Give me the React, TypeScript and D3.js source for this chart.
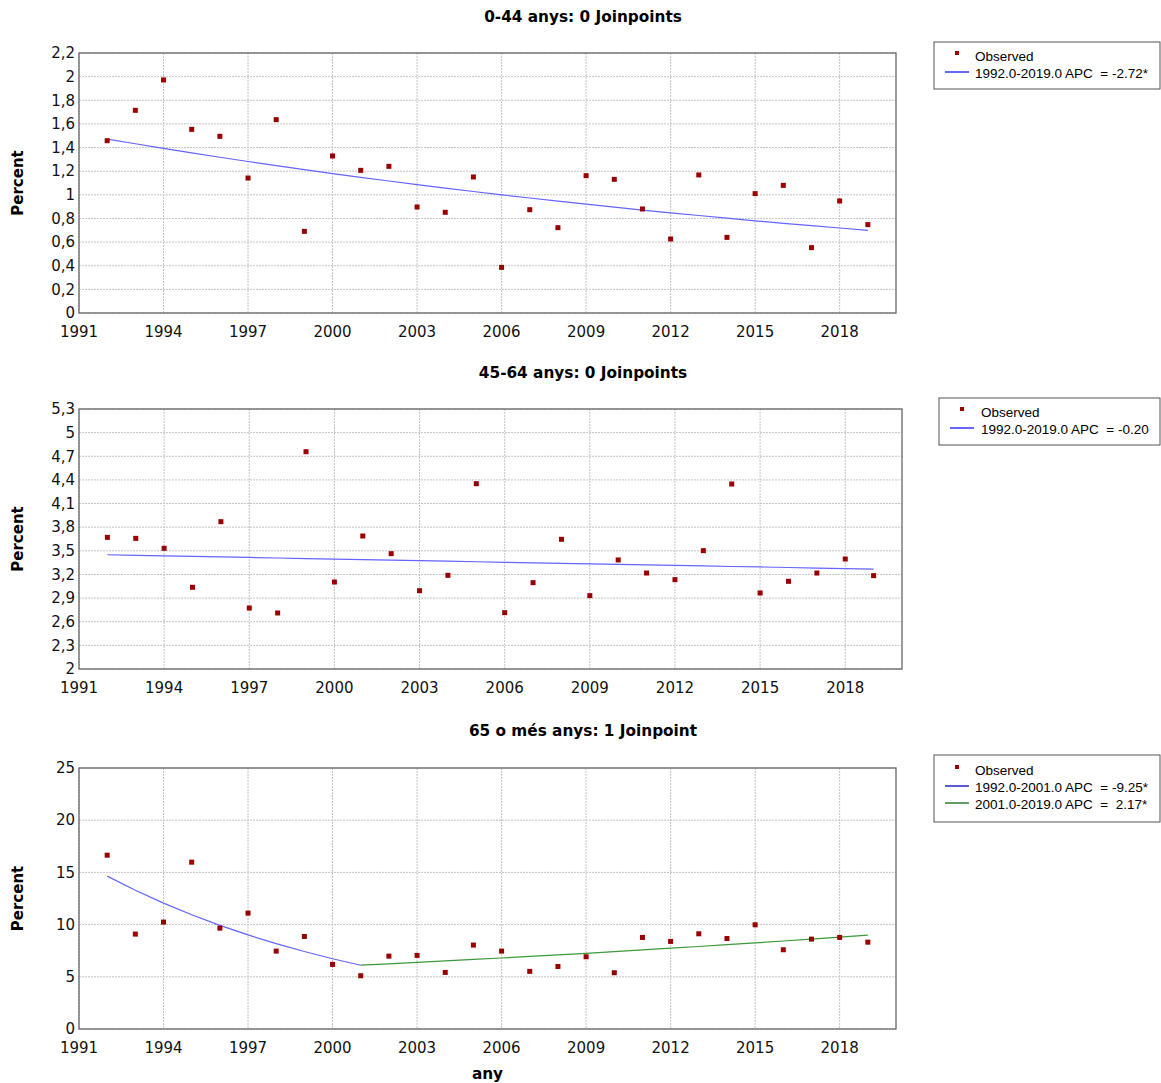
import React from "react";
import * as d3 from "d3";

const years = d3.range(1992, 2020);

const obs044 = [1.458, 1.715, 1.972, 1.554, 1.495, 1.142, 1.636, 0.691, 1.329, 1.207, 1.241, 0.897, 0.852, 1.151,
  0.386, 0.874, 0.722, 1.162, 1.131, 0.88, 0.626, 1.168, 0.64, 1.01, 1.08, 0.553, 0.948, 0.748];
const fit044 = [1.472, 1.432, 1.393, 1.355, 1.318, 1.282, 1.247, 1.213, 1.18, 1.148, 1.117, 1.087, 1.057, 1.028,
  1.0, 0.973, 0.947, 0.921, 0.896, 0.871, 0.848, 0.825, 0.802, 0.78, 0.759, 0.739, 0.719, 0.699];

const obs4564 = [3.671, 3.658, 3.532, 3.037, 3.87, 2.774, 2.711, 4.758, 3.104, 3.688, 3.464, 2.994, 3.189, 4.352,
  2.715, 3.096, 3.646, 2.931, 3.384, 3.218, 3.134, 3.502, 4.348, 2.965, 3.113, 3.218, 3.396, 3.185];
const fit4564 = [3.45, 3.443, 3.436, 3.429, 3.422, 3.416, 3.409, 3.402, 3.395, 3.388, 3.381, 3.375, 3.368, 3.361,
  3.354, 3.348, 3.341, 3.334, 3.328, 3.321, 3.314, 3.308, 3.301, 3.295, 3.288, 3.281, 3.275, 3.268];

const obs65 = [16.65, 9.09, 10.24, 15.98, 9.66, 11.1, 7.46, 8.86, 6.19, 5.1, 6.98, 7.05, 5.42, 8.04,
  7.46, 5.52, 5.99, 6.92, 5.39, 8.77, 8.39, 9.12, 8.67, 9.98, 7.59, 8.61, 8.77, 8.32];
const fit65a = [14.64, 13.29, 12.06, 10.94, 9.93, 9.01, 8.18, 7.42, 6.73, 6.11];
const fit65aYears = d3.range(1992, 2002);
const fit65b = [6.11, 6.24, 6.38, 6.52, 6.66, 6.8, 6.95, 7.1, 7.25, 7.41, 7.57, 7.74, 7.9, 8.08, 8.25, 8.43, 8.61, 8.8, 8.99];
const fit65bYears = d3.range(2001, 2020);

const xTicks = [1991, 1994, 1997, 2000, 2003, 2006, 2009, 2012, 2015, 2018];
const yTicks1 = [0, 0.2, 0.4, 0.6, 0.8, 1, 1.2, 1.4, 1.6, 1.8, 2, 2.2];
const yTicks2 = [2, 2.3, 2.6, 2.9, 3.2, 3.5, 3.8, 4.1, 4.4, 4.7, 5, 5.3];
const yTicks3 = [0, 5, 10, 15, 20, 25];

const titles = ["0-44 anys: 0 Joinpoints", "45-64 anys: 0 Joinpoints", "65 o més anys: 1 Joinpoint"];
const legend1 = ["Observed", "1992.0-2019.0 APC  = -2.72*"];
const legend2 = ["Observed", "1992.0-2019.0 APC  = -0.20"];
const legend3 = ["Observed", "1992.0-2001.0 APC  = -9.25*", "2001.0-2019.0 APC  =  2.17*"];

const TICK_FONT = "'DejaVu Sans', Verdana, sans-serif";
const LEG_FONT = "'Liberation Sans', Arial, sans-serif";
const OBS_COLOR = "#990000";
const LINE_BLUE = "#6464ff";
const LINE_GREEN = "#3a9a3a";

type Seg = { xs: number[]; ys: number[]; color: string };

function fmt(v: number) {
  return String(Math.round(v * 10) / 10).replace(".", ",");
}

function Panel(props: {
  left: number; right: number; top: number; bottom: number;
  domain: [number, number]; yTicks: number[]; title: string; titleY: number;
  obs: number[]; segs: Seg[];
  legend: string[]; legColors: string[]; legBox: { x: number; y: number; w: number; h: number };
  legOffsets: { markerX: number; lineX1: number; lineX2: number; textX: number; firstY: number; step: number };
  xLabel?: string;
}) {
  const { left, right, top, bottom, domain, yTicks, title, titleY, obs, segs, legend, legColors, legBox, legOffsets } = props;
  const x = d3.scaleLinear().domain([1991, 2020]).range([left, right]);
  const y = d3.scaleLinear().domain(domain).range([bottom, top]);
  const line = d3.line<[number, number]>().x((d) => x(d[0])).y((d) => y(d[1]));
  return (
    <g>
      <text x={583} y={titleY} textAnchor="middle" fontFamily={TICK_FONT} fontWeight="bold" fontSize={15.3} fill="#000">{title}</text>
      <rect x={left} y={top} width={right - left} height={bottom - top} fill="#fff" />
      {yTicks.map((t, i) => (
        <line key={"gy" + i} x1={left} x2={right} y1={y(t)} y2={y(t)} stroke="#c4c4c4" strokeWidth={1} strokeDasharray="2,1" />
      ))}
      {xTicks.map((t, i) => (
        <line key={"gx" + i} x1={x(t)} x2={x(t)} y1={top} y2={bottom} stroke="#c4c4c4" strokeWidth={1} strokeDasharray="2,1" />
      ))}
      <rect x={left} y={top} width={right - left} height={bottom - top} fill="none" stroke="#666" strokeWidth={1.3} />
      {yTicks.map((t, i) => (
        <text key={"ly" + i} x={left - 4} y={y(t)} dy="0.35em" textAnchor="end" fontFamily={TICK_FONT} fontSize={15} fill="#111">{fmt(t)}</text>
      ))}
      {xTicks.map((t, i) => (
        <text key={"lx" + i} x={x(t)} y={bottom + 24} textAnchor="middle" fontFamily={TICK_FONT} fontSize={15} fill="#111">{t}</text>
      ))}
      <text transform={`translate(23,${(top + bottom) / 2}) rotate(-90)`} textAnchor="middle" fontFamily={TICK_FONT} fontWeight="bold" fontSize={15} fill="#000">Percent</text>
      {segs.map((s, i) => (
        <path key={"s" + i} d={line(s.xs.map((xx, j) => [xx, s.ys[j]] as [number, number])) || ""} fill="none" stroke={s.color} strokeWidth={1.2} />
      ))}
      {obs.map((v, i) => (
        <rect key={"o" + i} x={x(years[i]) - 2.5} y={y(v) - 2.5} width={5} height={5} fill={OBS_COLOR} />
      ))}
      <rect x={legBox.x} y={legBox.y} width={legBox.w} height={legBox.h} fill="#fff" stroke="#555" strokeWidth={1} />
      {legend.map((l, i) => {
        const ly = legOffsets.firstY + i * legOffsets.step;
        return (
          <g key={"lg" + i}>
            {i === 0 ? (
              <rect x={legOffsets.markerX - 2} y={ly - 5} width={4} height={4} fill={OBS_COLOR} />
            ) : (
              <line x1={legOffsets.lineX1} x2={legOffsets.lineX2} y1={ly - 1} y2={ly - 1} stroke={legColors[i]} strokeWidth={1.5} />
            )}
            <text x={legOffsets.textX} y={ly} dy="0.35em" fontFamily={LEG_FONT} fontSize={13.5} fill="#000" style={{ whiteSpace: "pre" }}>{l}</text>
          </g>
        );
      })}
      {props.xLabel ? (
        <text x={(left + right) / 2} y={1079} textAnchor="middle" fontFamily={TICK_FONT} fontWeight="bold" fontSize={15.3} fill="#000">{props.xLabel}</text>
      ) : null}
    </g>
  );
}

export default function App() {
  return (
    <svg width={1161} height={1083} style={{ position: "absolute", left: 0, top: 0, background: "#fff" }}>
      <rect x={0} y={0} width={1161} height={1083} fill="#fff" />
      <Panel left={79} right={896} top={53} bottom={313} domain={[0, 2.2]} yTicks={yTicks1}
        title={titles[0]} titleY={22} obs={obs044}
        segs={[{ xs: years, ys: fit044, color: LINE_BLUE }]}
        legend={legend1} legColors={["", "#3333ff"]}
        legBox={{ x: 934, y: 42, w: 226, h: 47 }}
        legOffsets={{ markerX: 957, lineX1: 945, lineX2: 969, textX: 975, firstY: 56, step: 17 }} />
      <Panel left={79} right={902} top={409} bottom={669} domain={[2, 5.3]} yTicks={yTicks2}
        title={titles[1]} titleY={378} obs={obs4564}
        segs={[{ xs: years, ys: fit4564, color: LINE_BLUE }]}
        legend={legend2} legColors={["", "#3333ff"]}
        legBox={{ x: 939, y: 398, w: 221, h: 47 }}
        legOffsets={{ markerX: 962, lineX1: 950, lineX2: 974, textX: 981, firstY: 412, step: 17 }} />
      <Panel left={79} right={896} top={768} bottom={1029} domain={[0, 25]} yTicks={yTicks3}
        title={titles[2]} titleY={736} obs={obs65}
        segs={[{ xs: fit65aYears, ys: fit65a, color: LINE_BLUE }, { xs: fit65bYears, ys: fit65b, color: LINE_GREEN }]}
        legend={legend3} legColors={["", "#2222cc", "#2e7d2e"]}
        legBox={{ x: 934, y: 755, w: 226, h: 67 }}
        legOffsets={{ markerX: 957, lineX1: 945, lineX2: 969, textX: 975, firstY: 770, step: 17 }}
        xLabel="any" />
    </svg>
  );
}
